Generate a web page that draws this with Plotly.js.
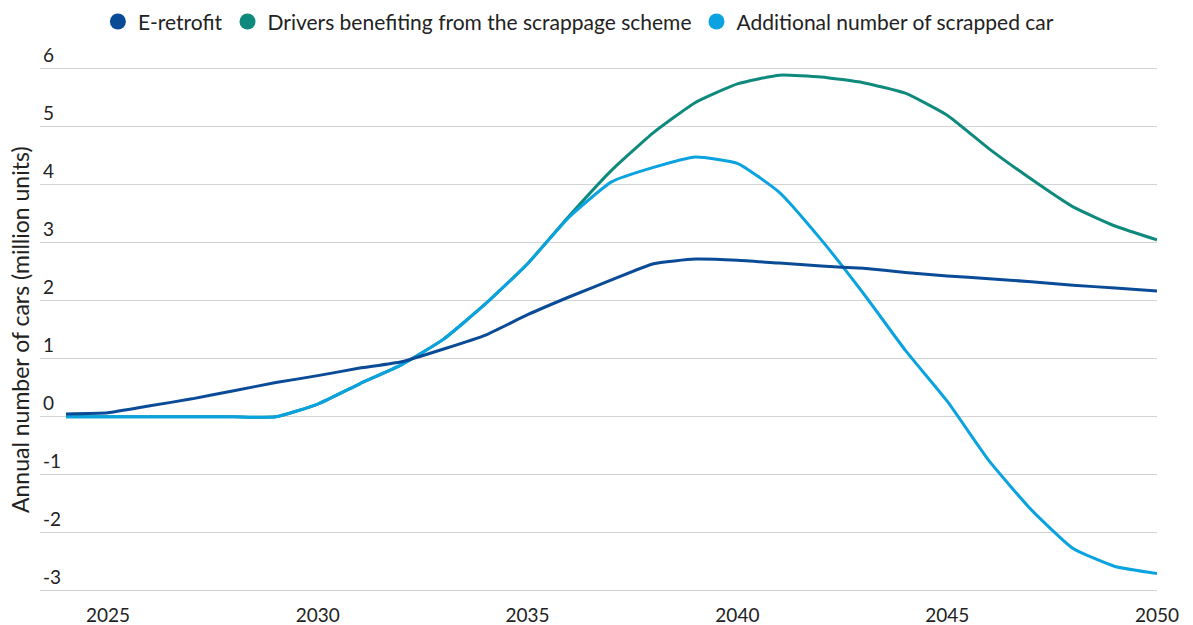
<!DOCTYPE html>
<html>
<head>
<meta charset="utf-8">
<script src="https://cdn.plot.ly/plotly-3.0.1.min.js"></script>
<style>html,body{margin:0;padding:0;background:#fff;}#chart{width:1193px;height:625px;}</style>
</head>
<body>
<div id="chart"></div>
<script>
const years = [2024,2025,2026,2027,2028,2029,2030,2031,2032,2033,2034,2035,2036,2037,2038,2039,2040,2041,2042,2043,2044,2045,2046,2047,2048,2049,2050];
const eRetrofit = [0.05,0.07,0.19,0.31,0.45,0.59,0.71,0.84,0.95,1.17,1.41,1.76,2.07,2.36,2.64,2.72,2.70,2.65,2.60,2.56,2.49,2.43,2.38,2.33,2.27,2.22,2.17];
const driversScrappage = [0,0,0,0,0,0,0.22,0.57,0.90,1.34,1.95,2.64,3.47,4.25,4.90,5.42,5.74,5.89,5.86,5.76,5.58,5.20,4.62,4.10,3.62,3.29,3.05];
const additionalScrapped = [0,0,0,0,0,0,0.22,0.57,0.90,1.34,1.95,2.64,3.45,4.05,4.30,4.48,4.37,3.87,3.05,2.13,1.15,0.27,-0.76,-1.60,-2.27,-2.58,-2.70];
const seriesNames = ["E-retrofit","Drivers benefiting from the scrappage scheme","Additional number of scrapped car"];
const yTitle = "Annual number of cars (million units)";
const yTicks = [-3,-2,-1,0,1,2,3,4,5,6];
const xTicks = [2025,2030,2035,2040,2045,2050];

const colors = ["#0a4b97","#0e8a7c","#0aa3e0"];
const font = "Lato, 'Open Sans', sans-serif";

const lineTraces = [driversScrappage, additionalScrapped, eRetrofit].map((vals, i) => {
  const idx = [1,2,0][i];
  return {
    x: years, y: vals, type: "scatter", mode: "lines",
    line: {color: colors[idx], width: 3, shape: "spline", smoothing: 0.45},
    showlegend: false, hoverinfo: "x+y", name: seriesNames[idx]
  };
});
const legendTraces = seriesNames.map((n, i) => ({
  x: [null], y: [null], type: "scatter", mode: "markers", name: n,
  marker: {color: colors[i], size: 17, symbol: "circle"}, showlegend: true
}));

const layout = {
  width: 1193, height: 625,
  margin: {l: 40, r: 36, t: 34, b: 33, autoexpand: false},
  paper_bgcolor: "#fff", plot_bgcolor: "#fff",
  font: {family: font, size: 19, color: "#222"},
  showlegend: true,
  legend: {orientation: "h", x: 0.482, xanchor: "center", y: 0.965, yanchor: "middle", yref: "container",
    font: {family: font, size: 21, color: "#222"}, itemwidth: 30, tracegroupgap: 0, itemclick: false,
    bgcolor: "rgba(0,0,0,0)"},
  xaxis: {range: [2023.38, 2050], tickvals: xTicks, ticktext: xTicks.map(String), automargin: false,
    showgrid: false, zeroline: false, showline: false, ticks: "outside", ticklen: 6, tickcolor: "rgba(0,0,0,0)",
    tickfont: {family: font, size: 19, color: "#222"}, fixedrange: true},
  yaxis: {range: [-3.02, 6.6], tickvals: yTicks, ticktext: yTicks.map(String), automargin: false,
    ticklabelposition: "inside top", showgrid: true, gridcolor: "#d3d3d3", gridwidth: 1,
    zeroline: false, showline: false, ticks: "",
    tickfont: {family: font, size: 19, color: "#222"}, fixedrange: true},
  annotations: [{
    text: yTitle, textangle: -90, showarrow: false,
    xref: "paper", yref: "paper", x: -20/1117, y: 262/558, xanchor: "center", yanchor: "middle",
    font: {family: font, size: 23, color: "#222"}
  }]
};

Plotly.newPlot("chart", [...lineTraces, ...legendTraces], layout, {displayModeBar: false, staticPlot: true});
</script>
</body>
</html>
